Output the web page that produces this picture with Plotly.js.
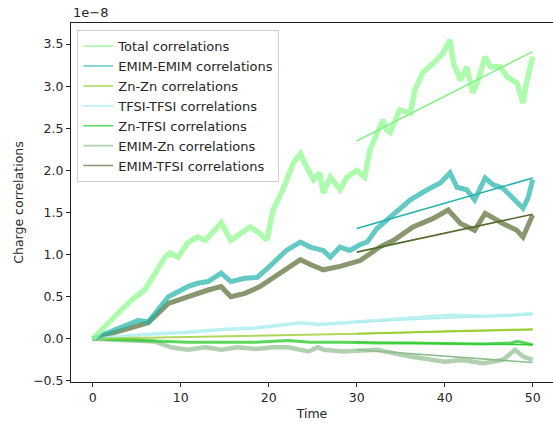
<!DOCTYPE html>
<html>
<head>
<meta charset="utf-8">
<script src="https://cdn.plot.ly/plotly-3.0.1.min.js"></script>
<style>html,body{margin:0;padding:0;background:#fff;}#chart{width:553px;height:427px;}</style>
</head>
<body>
<div id="chart"></div>
<script>
// Values in units of 1e-8
const totalT = [0,1.7,3.2,4.4,5.9,7.1,8.2,8.8,9.7,10.8,11.9,12.8,13.5,14.6,15.7,16.9,17.9,19,19.8,20.5,21.6,22.8,23.6,24.3,25.1,25.8,26.2,27,28.1,28.9,30,30.9,31.5,32.3,33,33.4,33.8,34.9,36.1,36.6,37.5,38.7,39.8,40.6,41,41.8,42.5,43.2,43.8,44.6,45.2,46.3,47.1,48.2,48.9,49.3,50];
const totalV = [0,0.19,0.34,0.46,0.58,0.78,0.97,1.02,0.97,1.14,1.21,1.17,1.25,1.38,1.17,1.25,1.33,1.25,1.17,1.53,1.77,2.09,2.2,2.04,1.89,1.97,1.73,1.92,1.77,1.92,2.0,1.92,2.24,2.44,2.6,2.48,2.45,2.72,2.68,2.95,3.16,3.27,3.39,3.55,3.27,3.07,3.23,2.92,3.07,3.35,3.23,3.23,3.11,3.04,2.8,3.04,3.35];

const emimEmimT = [0,3.2,5.2,6.3,7.1,8.6,9.7,10.8,11.9,13.1,14.6,15.7,17.3,18.7,20.5,22,23.6,24.7,26.2,27,28.1,29.2,30.4,31.2,32.3,33,34.2,36.1,38,39.5,40.6,41.4,42.5,43.4,44.6,45.5,46.6,47.7,48.9,49.5,50];
const emimEmimV = [0,0.14,0.22,0.2,0.3,0.5,0.56,0.62,0.66,0.68,0.78,0.68,0.72,0.73,0.9,1.05,1.15,1.09,1.05,0.97,1.09,1.05,1.12,1.15,1.31,1.37,1.47,1.65,1.77,1.85,1.97,1.8,1.77,1.65,1.91,1.83,1.79,1.67,1.55,1.68,1.89];

const znZnT = [0,10,20,30,40,50];
const znZnV = [0,0.02,0.04,0.06,0.09,0.115];

const tfsiTfsiT = [0,5.5,10.8,14.6,18.5,22.2,23.7,25.8,28.4,32.3,36.1,40.6,44.4,47.5,50];
const tfsiTfsiV = [0,0.05,0.08,0.11,0.13,0.17,0.19,0.17,0.19,0.21,0.24,0.28,0.27,0.28,0.3];

const znTfsiT = [0,5.5,10.8,14.6,18.5,22.2,24.7,28.4,32.3,36.1,40.6,44.4,47.5,48.3,50];
const znTfsiV = [0,-0.02,-0.04,-0.04,-0.04,-0.02,-0.04,-0.04,-0.05,-0.05,-0.06,-0.06,-0.05,-0.03,-0.07];

const emimZnT = [0,3.2,7,8.9,10.8,12.8,14.6,16.5,18.5,20.5,22.2,24.5,25.6,26.3,28.4,32.3,36.1,40,41.9,44.4,46.6,48,48.9,50];
const emimZnV = [0,-0.01,-0.03,-0.1,-0.13,-0.1,-0.13,-0.1,-0.12,-0.1,-0.1,-0.15,-0.1,-0.13,-0.15,-0.13,-0.21,-0.27,-0.25,-0.29,-0.25,-0.13,-0.21,-0.25];

const emimTfsiT = [0,3.2,6.3,8.6,10.8,13.1,14.6,15.7,17.3,19,21.3,23.6,24.8,26.2,28.1,30.4,32.6,34.2,36.4,38.7,40.4,41.8,43.4,44.6,46.6,48.2,48.9,50];
const emimTfsiV = [0,0.1,0.19,0.42,0.5,0.58,0.62,0.5,0.54,0.62,0.78,0.94,0.88,0.82,0.86,0.93,1.09,1.17,1.33,1.43,1.53,1.37,1.29,1.49,1.37,1.29,1.21,1.47];

// Linear fits over t = 30..50
const fitT = [30, 50];
const fitTotal = [2.35, 3.41];
const fitEmimEmim = [1.31, 1.91];
const fitZnZn = [0.06, 0.11];
const fitTfsiTfsi = [0.2, 0.29];
const fitZnTfsi = [-0.04, -0.07];
const fitEmimZn = [-0.13, -0.28];
const fitEmimTfsi = [1.03, 1.48];

const names = ['Total correlations','EMIM-EMIM correlations','Zn-Zn correlations','TFSI-TFSI correlations','Zn-TFSI correlations','EMIM-Zn correlations','EMIM-TFSI correlations'];
const series = [
  {t: totalT, v: totalV, fit: fitTotal, c: 'rgba(152,251,152,0.8)', fc: '#88f088', w: 5.5},
  {t: emimEmimT, v: emimEmimV, fit: fitEmimEmim, c: 'rgba(32,178,170,0.7)', fc: '#20b2aa', w: 5},
  {t: znZnT, v: znZnV, fit: fitZnZn, c: 'rgba(154,205,50,0.8)', fc: '#9acd32', w: 2},
  {t: tfsiTfsiT, v: tfsiTfsiV, fit: fitTfsiTfsi, c: 'rgba(175,238,238,0.85)', fc: '#afeeee', w: 3.5},
  {t: znTfsiT, v: znTfsiV, fit: fitZnTfsi, c: 'rgba(50,205,50,0.8)', fc: '#32cd32', w: 3},
  {t: emimZnT, v: emimZnV, fit: fitEmimZn, c: 'rgba(143,188,143,0.7)', fc: '#8fbc8f', w: 4.5},
  {t: emimTfsiT, v: emimTfsiV, fit: fitEmimTfsi, c: 'rgba(85,107,47,0.7)', fc: '#556b2f', w: 5}
];

const traces = [];
for (let i = series.length - 1; i >= 0; i--) {
  const s = series[i];
  traces.push({x: s.t, y: s.v, type: 'scatter', mode: 'lines', line: {color: s.c, width: s.w}, showlegend: false, hoverinfo: 'skip'});
}
for (let i = series.length - 1; i >= 0; i--) {
  const s = series[i];
  traces.push({x: fitT, y: s.fit, type: 'scatter', mode: 'lines', line: {color: s.fc, width: 1.6}, showlegend: false, hoverinfo: 'skip'});
}
series.forEach((s, i) => {
  traces.push({x: [null], y: [null], type: 'scatter', mode: 'lines', name: names[i], line: {color: s.c, width: 1.6}, showlegend: true});
});

const font = {family: 'DejaVu Sans, sans-serif', size: 12.5, color: '#262626'};
const layout = {
  width: 553, height: 427,
  margin: {l: 71, r: 0, t: 23, b: 45, pad: 0},
  paper_bgcolor: '#fff', plot_bgcolor: '#fff',
  font: font,
  showlegend: true,
  legend: {
    x: 0.013, y: 0.98, xanchor: 'left', yanchor: 'top',
    bgcolor: 'rgba(255,255,255,0.8)', bordercolor: '#d0d0d0', borderwidth: 1,
    font: {family: 'DejaVu Sans, sans-serif', size: 13, color: '#262626'},
    itemwidth: 30, tracegroupgap: 0
  },
  xaxis: {
    range: [-2.47, 52.31], tickmode: 'linear', tick0: 0, dtick: 10,
    showgrid: false, zeroline: false, showline: true, mirror: true, linecolor: '#222', linewidth: 1,
    ticks: 'outside', ticklen: 4, tickcolor: '#222', tickwidth: 1,
    title: {text: 'Time', font: font, standoff: 5}
  },
  yaxis: {
    range: [-0.512, 3.75], tickmode: 'linear', tick0: 0, dtick: 0.5, tickformat: '.1f',
    showgrid: false, zeroline: false, showline: true, mirror: false, linecolor: '#222', linewidth: 1,
    ticks: 'outside', ticklen: 4, tickcolor: '#222', tickwidth: 1,
    title: {text: 'Charge correlations', font: font, standoff: 6}
  },
  annotations: [{
    text: '1e\u22128', xref: 'paper', yref: 'paper', x: 0, y: 1, xanchor: 'left', yanchor: 'bottom',
    yshift: 1, showarrow: false, font: {family: 'DejaVu Sans, sans-serif', size: 13, color: '#262626'}
  }]
};

Plotly.newPlot('chart', traces, layout, {displayModeBar: false, staticPlot: true});
</script>
</body>
</html>
